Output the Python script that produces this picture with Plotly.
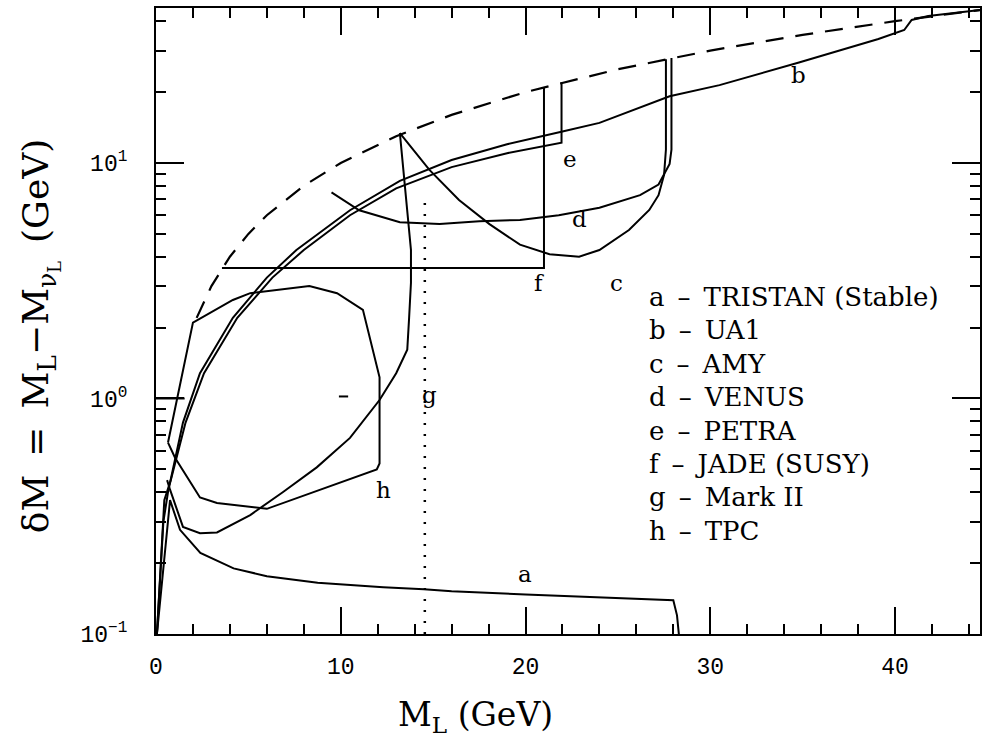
import math
import plotly.graph_objects as go

# ---- data ----
dash_x = [2.2, 3, 4, 5, 6, 8, 10, 13, 16, 20, 25, 30, 35, 40, 44.6]
dash_y = [2.2, 3, 4, 5, 6, 8, 10, 13, 16, 20, 25, 30, 35, 40, 44.6]

a_x = [0.05, 0.3, 0.55, 0.76, 1.3, 2.4, 4.2, 6.0, 8.75, 12.3, 14.5, 16, 20, 24, 27.4, 28.0, 28.2, 28.3]
a_y = [0.1, 0.16, 0.26, 0.37, 0.277, 0.221, 0.19, 0.176, 0.165, 0.158, 0.155, 0.152, 0.147, 0.143, 0.14, 0.139, 0.12, 0.1]

b_x = [0.05, 0.4, 0.65, 1.46, 2.38, 4.16, 6.0, 7.6, 10.5, 13.2, 16, 19, 22, 24, 27.8, 30.5, 34.8, 38, 39.1, 40.5, 40.9, 41.8, 44.6]
b_y = [0.1, 0.3, 0.40, 0.79, 1.28, 2.2, 3.26, 4.27, 6.3, 8.4, 10.3, 12, 13.6, 14.8, 19.2, 21.4, 26.7, 31.6, 33.6, 36.7, 40.5, 42.1, 44.6]

c_x = [13.2, 14.8, 16.4, 18.05, 19.7, 21.3, 22.9, 24, 25.6, 26.7, 27.2, 27.5, 27.6, 27.6]
c_y = [13.4, 9.34, 6.96, 5.5, 4.5, 4.1, 4.0, 4.27, 5.19, 6.32, 7.3, 8.9, 11.4, 27.6]

d_x = [9.5, 11.0, 13.2, 15.35, 17.5, 19.7, 21.8, 24, 26.2, 27.2, 27.8, 27.9, 27.9]
d_y = [7.5, 6.3, 5.6, 5.5, 5.65, 5.73, 6.0, 6.45, 7.3, 8.1, 9.9, 11.4, 27.9]

e_x = [0.05, 0.45, 0.8, 1.6, 2.6, 4.4, 6.3, 8, 10.5, 13, 16, 19, 21.95, 21.95]
e_y = [0.1, 0.37, 0.45, 0.79, 1.28, 2.2, 3.26, 4.27, 6.0, 7.8, 9.6, 11.0, 12.2, 22]

f_x = [3.57, 21.0, 21.0]
f_y = [3.58, 3.58, 21.0]

g_x = [0.6, 0.76, 1.46, 2.38, 3.3, 5.1, 6.86, 8.7, 10.5, 12.1, 13.0, 13.6, 13.7, 13.8, 13.8, 13.2]
g_y = [0.45, 0.41, 0.285, 0.268, 0.27, 0.32, 0.40, 0.51, 0.68, 0.985, 1.28, 1.61, 2.2, 3.1, 4.27, 13.4]

h_x = [0.65, 2.0, 4.16, 5.1, 8.3, 9.8, 11.2, 12.1, 12.1, 11.95, 6.0, 3.3, 2.38, 1.03, 0.65]
h_y = [0.65, 2.1, 2.62, 2.8, 3.0, 2.8, 2.38, 1.23, 0.53, 0.50, 0.34, 0.36, 0.38, 0.56, 0.65]

stub_x = [0.0, 1.55]
stub_y = [1.0, 1.0]

mark_x = [9.9, 10.4]
mark_y = [1.02, 1.02]

dot_x = [14.55, 14.55]
dot_y = [0.1, 7.0]

curve_labels = ["a", "b", "c", "d", "e", "f", "g", "h"]
label_x = [19.95, 34.8, 24.9, 22.9, 22.4, 20.75, 14.8, 12.3]
label_y = [0.18, 23.6, 3.1, 5.8, 10.4, 3.1, 1.03, 0.41]

legend_lines = ["a\u2002\u2013\u2002TRISTAN (Stable)", "b\u2002\u2013\u2002UA1",
                "c\u2002\u2013\u2002AMY", "d\u2002\u2013\u2002VENUS",
                "e\u2002\u2013\u2002PETRA", "f\u2002\u2013\u2002JADE (SUSY)",
                "g\u2002\u2013\u2002Mark II", "h\u2002\u2013\u2002TPC"]

x_range = [0, 44.6]
y_range = [0.1, 45.5]

# ---- figure ----
fig = go.Figure()
line = dict(color="black", width=2)

for xs, ys in [(a_x, a_y), (b_x, b_y), (c_x, c_y), (d_x, d_y), (e_x, e_y),
               (f_x, f_y), (g_x, g_y), (h_x, h_y), (stub_x, stub_y), (mark_x, mark_y)]:
    fig.add_trace(go.Scatter(x=xs, y=ys, mode="lines", line=line, showlegend=False,
                             hoverinfo="skip"))

fig.add_trace(go.Scatter(x=dash_x, y=dash_y, mode="lines", showlegend=False,
                         line=dict(color="black", width=2.2, dash="18px,12px")))
fig.add_trace(go.Scatter(x=dot_x, y=dot_y, mode="lines", showlegend=False,
                         line=dict(color="black", width=2.5, dash="2px,9px")))

serif = "DejaVu Serif"
for t, lx, ly in zip(curve_labels, label_x, label_y):
    fig.add_annotation(x=lx, y=math.log10(ly), yref="y", xref="x", text=t, showarrow=False,
                       font=dict(family=serif, size=23, color="black"))

# legend block as text
L, T, W, H = 156, 8, 826, 626
top_py = 297
for i, t in enumerate(legend_lines):
    fig.add_annotation(xref="paper", yref="paper", x=(648 - L) / W,
                       y=1 - (top_py + i * 33.4 - T) / H,
                       text=t, showarrow=False, xanchor="left", yanchor="middle",
                       font=dict(family=serif, size=26, color="black"))

# axis titles
fig.add_annotation(xref="paper", yref="paper", x=(476 - L) / W, y=1 - (716 - T) / H,
                   text="M<sub>L</sub> (GeV)", showarrow=False,
                   xanchor="center", yanchor="middle",
                   font=dict(family=serif, size=33, color="black"))
fig.add_annotation(xref="paper", yref="paper", x=(40 - L) / W, y=1 - (336 - T) / H,
                   text="\u03b4M\u2002=\u2002M<sub>L</sub>\u2212M<sub>\u03bd<sub>L</sub></sub>\u2002(GeV)",
                   textangle=-90, showarrow=False, xanchor="center", yanchor="middle",
                   font=dict(family=serif, size=36, color="black"))

fig.update_layout(
    width=982, height=752,
    margin=dict(l=L, r=0, t=T, b=752 - T - H),
    paper_bgcolor="white", plot_bgcolor="white",
    showlegend=False,
)

mono = "Liberation Mono"
fig.update_xaxes(range=x_range, showline=True, linecolor="black", linewidth=2,
                 mirror="allticks", ticks="inside", ticklen=27, tickwidth=2, tickcolor="black",
                 dtick=10, tick0=0, showgrid=False, zeroline=False,
                 tickfont=dict(family=mono, size=23, color="black"),
                 ticklabelstandoff=10,
                 minor=dict(ticks="inside", ticklen=10, tickwidth=1.5, dtick=2, tickcolor="black", showgrid=False))

fig.update_yaxes(type="log", range=[math.log10(y_range[0]), math.log10(y_range[1])],
                 showline=True, linecolor="black", linewidth=2,
                 mirror="allticks", ticks="inside", ticklen=28, tickwidth=2, tickcolor="black",
                 tickvals=[0.1, 1, 10],
                 ticktext=["10<sup>\u22121</sup>", "10<sup>0</sup>", "10<sup>1</sup>"],
                 showgrid=False, zeroline=False,
                 tickfont=dict(family=mono, size=23, color="black"),
                 ticklabelstandoff=22,
                 minor=dict(ticks="inside", ticklen=10, tickwidth=1.5, tickcolor="black", showgrid=False,
                            tickvals=[0.2, 0.3, 0.4, 0.5, 0.6, 0.7, 0.8, 0.9, 2, 3, 4, 5, 6, 7, 8, 9, 20, 30, 40]))

fig.write_html("out.html")
